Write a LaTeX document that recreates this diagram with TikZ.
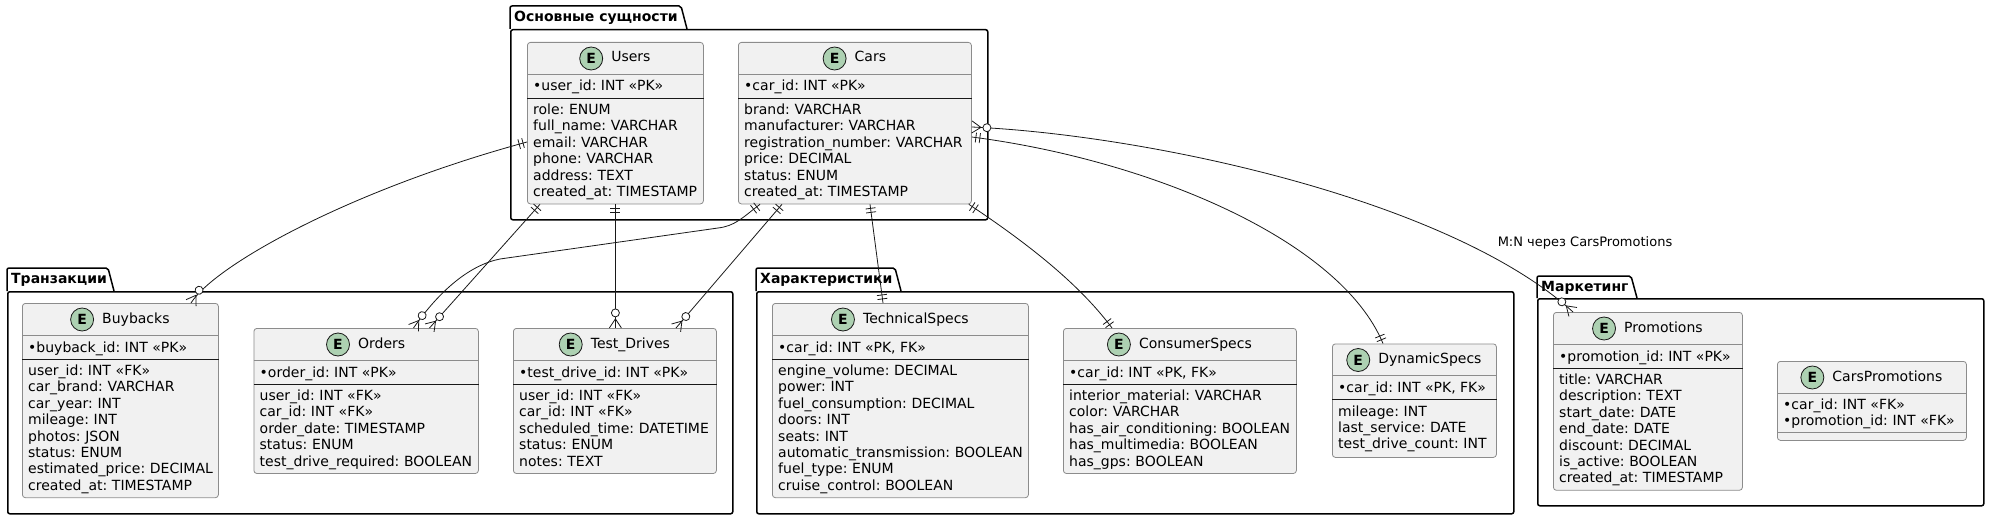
\documentclass[tikz,border=0pt]{standalone}
\usepackage{fontspec}
\setmainfont{DejaVu Sans}
\frenchspacing
\usetikzlibrary{positioning, decorations.markings}

\definecolor{efill}{HTML}{F1F1F1}
\definecolor{eborder}{HTML}{8C8C8C}
\definecolor{egreen}{HTML}{ADD1B2}
\definecolor{ink}{HTML}{181818}

\tikzset{
  ebox/.style={draw=eborder, fill=efill, line width=0.8, rounded corners=3, anchor=north west, inner sep=0},
  ename/.style={font=\fontsize{14}{16.4}\selectfont, inner sep=0, text height=10, text depth=3, anchor=base},
  eicon/.style={circle, draw=ink, fill=egreen, line width=0.8, minimum size=23, inner sep=0, font=\bfseries\fontsize{14}{16.4}\selectfont},
  ekey/.style={font=\fontsize{14}{16.4}\selectfont, inner sep=0, anchor=base west},
  eattr/.style={font=\fontsize{14}{16.4}\selectfont, inner sep=0, anchor=base west, text width=300, align=left},
  hsep/.style={draw=eborder, line width=0.8},
  ksep/.style={draw=ink, line width=0.8},
  pkg/.style={draw=black, line width=1.5, rounded corners=2, anchor=north west, inner sep=0},
  ptab/.style={draw=black, line width=1.5, rounded corners=2},
  ptitle/.style={font=\bfseries\fontsize{14}{16.4}\selectfont, inner sep=0, anchor=base west},
  conn/.style={draw=ink, line width=0.8},
  lbl/.style={font=\fontsize{13}{15}\selectfont, inner sep=0},
  onefrom/.style={postaction={decorate, decoration={markings, mark=at position 0.1pt with {\draw[ink, line width=0.8] (4pt,-5pt) -- (4pt,5pt) (8pt,-5pt) -- (8pt,5pt);}}}},
  oneto/.style={postaction={decorate, decoration={markings, mark=at position -0.1pt with {\draw[ink, line width=0.8] (-4pt,-5pt) -- (-4pt,5pt) (-8pt,-5pt) -- (-8pt,5pt);}}}},
  manyfrom/.style={postaction={decorate, decoration={markings, mark=at position 0.1pt with {\draw[ink, line width=0.8] (0,-6pt) -- (9pt,0) -- (0,6pt); \draw[ink, line width=0.8, fill=white] (15pt,0) circle (4pt);}}}},
  manyto/.style={postaction={decorate, decoration={markings, mark=at position -0.1pt with {\draw[ink, line width=0.8] (0,-6pt) -- (-9pt,0) -- (0,6pt); \draw[ink, line width=0.8, fill=white] (-15pt,0) circle (4pt);}}}}
}

\begin{document}
\begin{tikzpicture}[x=1pt, y=-1pt]
\useasboundingbox (0,0) rectangle (1989,519);

% Packages
\draw[ptab] (510,29) -- (510,6) -- (681,6) -- (687,29);
\node[pkg, minimum width=477, minimum height=190] (core) at (510,29) {};
\node[ptitle] (core-t) at (514,21.5) {Основные сущности};

\draw[ptab] (7,291) -- (7,268) -- (108,268) -- (114,291);
\node[pkg, minimum width=725, minimum height=222] (trans) at (7,291) {};
\node[ptitle] (trans-t) at (11,283.5) {Транзакции};

\draw[ptab] (756,291) -- (756,268) -- (895,268) -- (901,291);
\node[pkg, minimum width=757, minimum height=222] (specs) at (756,291) {};
\node[ptitle] (specs-t) at (760,283.5) {Характеристики};

\draw[ptab] (1537,298) -- (1537,276) -- (1631,276) -- (1637,298);
\node[pkg, minimum width=446, minimum height=207] (mkt) at (1537,298) {};
\node[ptitle] (mkt-t) at (1541,291.5) {Маркетинг};

% Users
\node[ebox, minimum width=176, minimum height=161.5] (users) at (527,42) {};
\node[ename] (users-t) at ([xshift=15.5, yshift=-20]users.north) {Users};
\node[eicon, left=8pt of users-t] (users-e) {E};
\draw[hsep] ([yshift=-32]users.north west) -- ([yshift=-32]users.north east);
\draw[ksep] ([yshift=-56]users.north west) -- ([yshift=-56]users.north east);
\node[ekey] (users-k) at ([xshift=6, yshift=-49]users.north west) {•user\_id: INT «PK»};
\node[eattr] (users-a) at ([xshift=6, yshift=-72.5]users.north west) {role: ENUM\\full\_name: VARCHAR\\email: VARCHAR\\phone: VARCHAR\\address: TEXT\\created\_at: TIMESTAMP};

% Cars
\node[ebox, minimum width=233, minimum height=161.5] (cars) at (738,42) {};
\node[ename] (cars-t) at ([xshift=15.5, yshift=-20]cars.north) {Cars};
\node[eicon, left=8pt of cars-t] (cars-e) {E};
\draw[hsep] ([yshift=-32]cars.north west) -- ([yshift=-32]cars.north east);
\draw[ksep] ([yshift=-56]cars.north west) -- ([yshift=-56]cars.north east);
\node[ekey] (cars-k) at ([xshift=6, yshift=-49]cars.north west) {•car\_id: INT «PK»};
\node[eattr] (cars-a) at ([xshift=6, yshift=-72.5]cars.north west) {brand: VARCHAR\\manufacturer: VARCHAR\\registration\_number: VARCHAR\\price: DECIMAL\\status: ENUM\\created\_at: TIMESTAMP};

% Buybacks
\node[ebox, minimum width=196, minimum height=194.3] (buyback) at (22,303) {};
\node[ename] (buyback-t) at ([xshift=15.5, yshift=-20]buyback.north) {Buybacks};
\node[eicon, left=8pt of buyback-t] (buyback-e) {E};
\draw[hsep] ([yshift=-32]buyback.north west) -- ([yshift=-32]buyback.north east);
\draw[ksep] ([yshift=-56]buyback.north west) -- ([yshift=-56]buyback.north east);
\node[ekey] (buyback-k) at ([xshift=6, yshift=-49]buyback.north west) {•buyback\_id: INT «PK»};
\node[eattr] (buyback-a) at ([xshift=6, yshift=-72.5]buyback.north west) {user\_id: INT «FK»\\car\_brand: VARCHAR\\car\_year: INT\\mileage: INT\\photos: JSON\\status: ENUM\\estimated\_price: DECIMAL\\created\_at: TIMESTAMP};

% Orders
\node[ebox, minimum width=224.5, minimum height=145.1] (orders) at (253.5,328) {};
\node[ename] (orders-t) at ([xshift=15.5, yshift=-20]orders.north) {Orders};
\node[eicon, left=8pt of orders-t] (orders-e) {E};
\draw[hsep] ([yshift=-32]orders.north west) -- ([yshift=-32]orders.north east);
\draw[ksep] ([yshift=-56]orders.north west) -- ([yshift=-56]orders.north east);
\node[ekey] (orders-k) at ([xshift=6, yshift=-49]orders.north west) {•order\_id: INT «PK»};
\node[eattr] (orders-a) at ([xshift=6, yshift=-72.5]orders.north west) {user\_id: INT «FK»\\car\_id: INT «FK»\\order\_date: TIMESTAMP\\status: ENUM\\test\_drive\_required: BOOLEAN};

% Test_Drives
\node[ebox, minimum width=203, minimum height=145.1] (test) at (513,328) {};
\node[ename] (test-t) at ([xshift=15.5, yshift=-20]test.north) {Test\_Drives};
\node[eicon, left=8pt of test-t] (test-e) {E};
\draw[hsep] ([yshift=-32]test.north west) -- ([yshift=-32]test.north east);
\draw[ksep] ([yshift=-56]test.north west) -- ([yshift=-56]test.north east);
\node[ekey] (test-k) at ([xshift=6, yshift=-49]test.north west) {•test\_drive\_id: INT «PK»};
\node[eattr] (test-a) at ([xshift=6, yshift=-72.5]test.north west) {user\_id: INT «FK»\\car\_id: INT «FK»\\scheduled\_time: DATETIME\\status: ENUM\\notes: TEXT};

% TechnicalSpecs
\node[ebox, minimum width=256, minimum height=194.3] (tech) at (772,303) {};
\node[ename] (tech-t) at ([xshift=15.5, yshift=-20]tech.north) {TechnicalSpecs};
\node[eicon, left=8pt of tech-t] (tech-e) {E};
\draw[hsep] ([yshift=-32]tech.north west) -- ([yshift=-32]tech.north east);
\draw[ksep] ([yshift=-56]tech.north west) -- ([yshift=-56]tech.north east);
\node[ekey] (tech-k) at ([xshift=6, yshift=-49]tech.north west) {•car\_id: INT «PK, FK»};
\node[eattr] (tech-a) at ([xshift=6, yshift=-72.5]tech.north west) {engine\_volume: DECIMAL\\power: INT\\fuel\_consumption: DECIMAL\\doors: INT\\seats: INT\\automatic\_transmission: BOOLEAN\\fuel\_type: ENUM\\cruise\_control: BOOLEAN};

% ConsumerSpecs
\node[ebox, minimum width=233, minimum height=145.1] (consumer) at (1063,328) {};
\node[ename] (consumer-t) at ([xshift=15.5, yshift=-20]consumer.north) {ConsumerSpecs};
\node[eicon, left=8pt of consumer-t] (consumer-e) {E};
\draw[hsep] ([yshift=-32]consumer.north west) -- ([yshift=-32]consumer.north east);
\draw[ksep] ([yshift=-56]consumer.north west) -- ([yshift=-56]consumer.north east);
\node[ekey] (consumer-k) at ([xshift=6, yshift=-49]consumer.north west) {•car\_id: INT «PK, FK»};
\node[eattr] (consumer-a) at ([xshift=6, yshift=-72.5]consumer.north west) {interior\_material: VARCHAR\\color: VARCHAR\\has\_air\_conditioning: BOOLEAN\\has\_multimedia: BOOLEAN\\has\_gps: BOOLEAN};

% DynamicSpecs
\node[ebox, minimum width=164, minimum height=113.5] (dynamic) at (1332,343.5) {};
\node[ename] (dynamic-t) at ([xshift=15.5, yshift=-20]dynamic.north) {DynamicSpecs};
\node[eicon, left=8pt of dynamic-t] (dynamic-e) {E};
\draw[hsep] ([yshift=-32]dynamic.north west) -- ([yshift=-32]dynamic.north east);
\draw[ksep] ([yshift=-56]dynamic.north west) -- ([yshift=-56]dynamic.north east);
\node[ekey] (dynamic-k) at ([xshift=6, yshift=-49]dynamic.north west) {•car\_id: INT «PK, FK»};
\node[eattr] (dynamic-a) at ([xshift=6, yshift=-72.5]dynamic.north west) {mileage: INT\\last\_service: DATE\\test\_drive\_count: INT};

% Promotions
\node[ebox, minimum width=189, minimum height=177.9] (promo) at (1553,312) {};
\node[ename] (promo-t) at ([xshift=15.5, yshift=-20]promo.north) {Promotions};
\node[eicon, left=8pt of promo-t] (promo-e) {E};
\draw[hsep] ([yshift=-32]promo.north west) -- ([yshift=-32]promo.north east);
\draw[ksep] ([yshift=-56]promo.north west) -- ([yshift=-56]promo.north east);
\node[ekey] (promo-k) at ([xshift=6, yshift=-49]promo.north west) {•promotion\_id: INT «PK»};
\node[eattr] (promo-a) at ([xshift=6, yshift=-72.5]promo.north west) {title: VARCHAR\\description: TEXT\\start\_date: DATE\\end\_date: DATE\\discount: DECIMAL\\is\_active: BOOLEAN\\created\_at: TIMESTAMP};

% CarsPromotions
\node[ebox, minimum width=189, minimum height=79] (carspromo) at (1777,361) {};
\node[ename] (carspromo-t) at ([xshift=15.5, yshift=-20]carspromo.north) {CarsPromotions};
\node[eicon, left=8pt of carspromo-t] (carspromo-e) {E};
\draw[hsep] ([yshift=-32]carspromo.north west) -- ([yshift=-32]carspromo.north east);
\draw[hsep] ([yshift=-71]carspromo.north west) -- ([yshift=-71]carspromo.north east);
\node[eattr] (carspromo-k) at ([xshift=6, yshift=-48.5]carspromo.north west) {•car\_id: INT «FK»\\•promotion\_id: INT «FK»};

% Relations
\draw[conn, onefrom, manyto] ([yshift=-100]users.north west) .. controls (350,190) and (215,265) .. ([xshift=169]buyback.north west);
\draw[conn, onefrom, manyto] ([xshift=13]users.south west) -- ([xshift=176]orders.north west);
\draw[conn, onefrom, manyto] (users.south) -- (users.south |- test.north);
\draw[conn, onefrom, manyto] ([xshift=22]cars.south west) .. controls (742,218) and (735,226) .. (718,228) -- (500,259) .. controls (470,265) and (440,290) .. ([xshift=160]orders.north west);
\draw[conn, onefrom, manyto] ([xshift=44]cars.south west) -- ([xshift=163]test.north west);
\draw[conn, onefrom, oneto] ([xshift=132]cars.south west) -- ([xshift=111]tech.north west);
\draw[conn, onefrom, oneto] ([xshift=-3]cars.south east) .. controls (1030,245) and (1080,285) .. ([xshift=49]consumer.north west);
\draw[conn, onefrom, oneto] ([yshift=-95]cars.north east) .. controls (1150,160) and (1340,240) .. ([xshift=51]dynamic.north west);
\draw[conn, manyfrom, manyto] ([yshift=-85]cars.north east) .. controls (1150,135) and (1450,200) .. ([xshift=20]promo.north west);
\node[lbl] (mn-lbl) at (1585,243) {M:N через CarsPromotions};

\end{tikzpicture}
\end{document}
